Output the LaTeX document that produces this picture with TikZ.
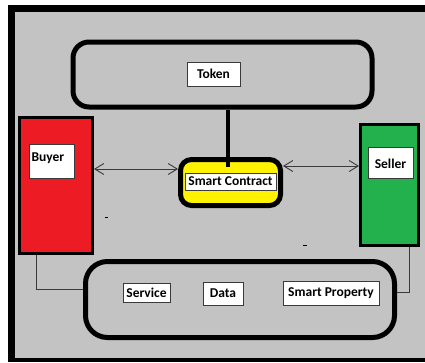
\documentclass[tikz,border=0pt]{standalone}
\usepackage{fontspec}
\setmainfont{Carlito}
\usetikzlibrary{arrows.meta}
\definecolor{panelgray}{HTML}{C3C3C3}
\definecolor{buyerred}{HTML}{ED1C24}
\definecolor{sellergreen}{HTML}{22B14C}
\definecolor{contractyellow}{HTML}{FFF200}
\definecolor{edgegray}{HTML}{3A3A3A}
\tikzset{
  lbl/.style={draw=edgegray, line width=1pt, fill=white, inner sep=0pt,
    font=\fontsize{13.5}{16}\selectfont\bfseries, text=black},
  group/.style={draw=black, line width=5pt, rectangle, inner sep=0pt},
  party/.style={draw=black, line width=3pt, rectangle, inner sep=0pt},
  conn/.style={draw=edgegray, line width=1pt},
  twoway/.style={conn, line width=0.9pt, {Straight Barb[length=9pt,width=11pt]}-{Straight Barb[length=9pt,width=11pt]}},
  stem/.style={draw=black, line width=4pt},
}
\begin{document}
\begin{tikzpicture}[x=1pt, y=-1pt]
  \useasboundingbox (0,0) rectangle (425,362);
  % frame and panel
  \fill[white] (0,0) rectangle (425,362);
  \fill[black] (8,5) rectangle (425,362);
  \fill[panelgray] (15,12) rectangle (425,358);

  % upper token container
  \node[group, rounded corners=16pt, minimum width=299pt, minimum height=65pt]
    (tok) at (222.5,74.5) {};
  \node[lbl, minimum width=53pt, minimum height=24pt] (toklbl) at (213.5,74) {Token};

  % smart contract
  \node[group, fill=contractyellow, rounded corners=11pt,
    minimum width=100pt, minimum height=46pt] (sc) at (230.5,182.5) {};
  \node[lbl, minimum width=91pt, minimum height=17pt] (sclbl) at (230.5,181.5) {Smart Contract};

  % link from token container down into the contract
  \coordinate (stemend) at (228,167);
  \draw[stem] (tok.south -| stemend) -- (stemend);

  % buyer
  \node[party, fill=buyerred, minimum width=73pt, minimum height=136pt] (buyer) at (56,185.5) {};
  \node[lbl, anchor=north west, text width=41pt, align=left, inner xsep=2pt,
    text height=15pt, text depth=15pt, inner ysep=2pt] (buyerlbl) at (29,144) {Buyer};

  % seller
  \node[party, fill=sellergreen, minimum width=58pt, minimum height=121pt] (seller) at (389.5,185) {};
  \node[lbl, minimum width=45pt, minimum height=31pt, text depth=0pt, text height=12pt]
    (sellerlbl) at (390.5,162.5) {Seller};

  % exchanges with the contract
  \coordinate (ab) at (0,169);
  \coordinate (as) at (0,166);
  \draw[twoway] (buyer.east |- ab) -- (sc.west |- ab);
  \draw[twoway] (sc.east |- as) -- (seller.west |- as);

  % lower asset container
  \node[group, rounded corners=22pt, minimum width=309pt, minimum height=76pt]
    (assets) at (240,299.5) {};
  \node[lbl, minimum width=47pt, minimum height=19pt, inner xsep=0pt] (service) at (146.5,292.5) {Service};
  \node[lbl, minimum width=40pt, minimum height=23pt] (data) at (223,293.5) {Data};
  \node[lbl, minimum width=96pt, minimum height=24pt] (property) at (331,293) {Smart Property};

  % parties tied to the assets
  \coordinate (bk) at (36,289);
  \coordinate (sk) at (409,292);
  \draw[conn] (buyer.south -| bk) |- (assets.west |- bk);
  \draw[conn] (seller.south -| sk) |- (assets.east |- sk);

  % small pen marks
  \draw[black, line width=1pt] (104.5,217) -- (107.5,217);
  \draw[black, line width=1pt] (303,245.5) -- (307,245.5);
\end{tikzpicture}
\end{document}
